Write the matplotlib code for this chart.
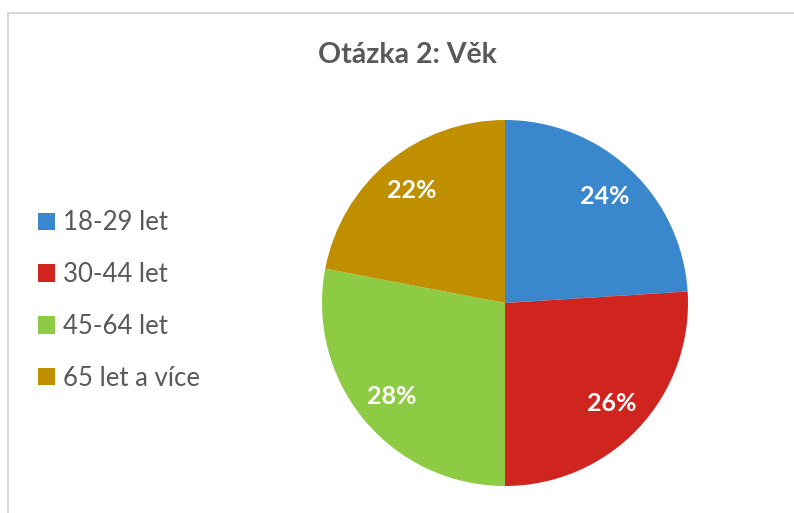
import matplotlib
matplotlib.use('Agg')
import matplotlib.pyplot as plt
from matplotlib.patches import Patch
from matplotlib.lines import Line2D

# data
categories = ['18-29 let', '30-44 let', '45-64 let', '65 let a více']
shares = [24, 26, 28, 22]
colors = ['#3A87CD', '#D0251F', '#8CCB43', '#BF8F00']
title = 'Otázka 2: Věk'

plt.rcParams['font.family'] = ['Lato', 'DejaVu Sans']

W, H = 794, 513
fig = plt.figure(figsize=(W / 100, H / 100), dpi=100)

# pie centre (505, 303) px, radius 183 px
cx, cy, r = 505, 303, 183
ax = fig.add_axes([(cx - r) / W, (H - cy - r) / H, 2 * r / W, 2 * r / H])
wedges, texts, autotexts = ax.pie(shares, colors=colors, startangle=90, counterclock=False,
                                  autopct='%d%%', pctdistance=0.8,
                                  wedgeprops=dict(linewidth=0))
for t in autotexts:
    t.set_color('white')
    t.set_fontsize(18)
    t.set_fontweight('bold')
ax.set_xlim(-1, 1)
ax.set_ylim(-1, 1)
ax.set_aspect('equal')

fig.text(407 / W, 1 - 55 / H, title, ha='center', va='center',
         fontsize=20.5, fontweight='bold', color='#595959')

handles = [Patch(facecolor=c, edgecolor='none') for c in colors]
leg = fig.legend(handles, categories, loc='center left',
                 bbox_to_anchor=(15 / W, 1 - 300.5 / H), frameon=False,
                 fontsize=18.5, labelcolor='#595959', handlelength=0.66,
                 handleheight=0.66, handletextpad=0.3, labelspacing=1.04)

# outer frame lines (top and left visible)
fig.add_artist(Line2D([8 / W, 1], [1 - 12.5 / H, 1 - 12.5 / H], transform=fig.transFigure,
                      color='#D9D9D9', lw=1.5))
fig.add_artist(Line2D([8 / W, 8 / W], [0, 1 - 12.5 / H], transform=fig.transFigure,
                      color='#D9D9D9', lw=1.5))

fig.savefig('out.png', dpi=100)
